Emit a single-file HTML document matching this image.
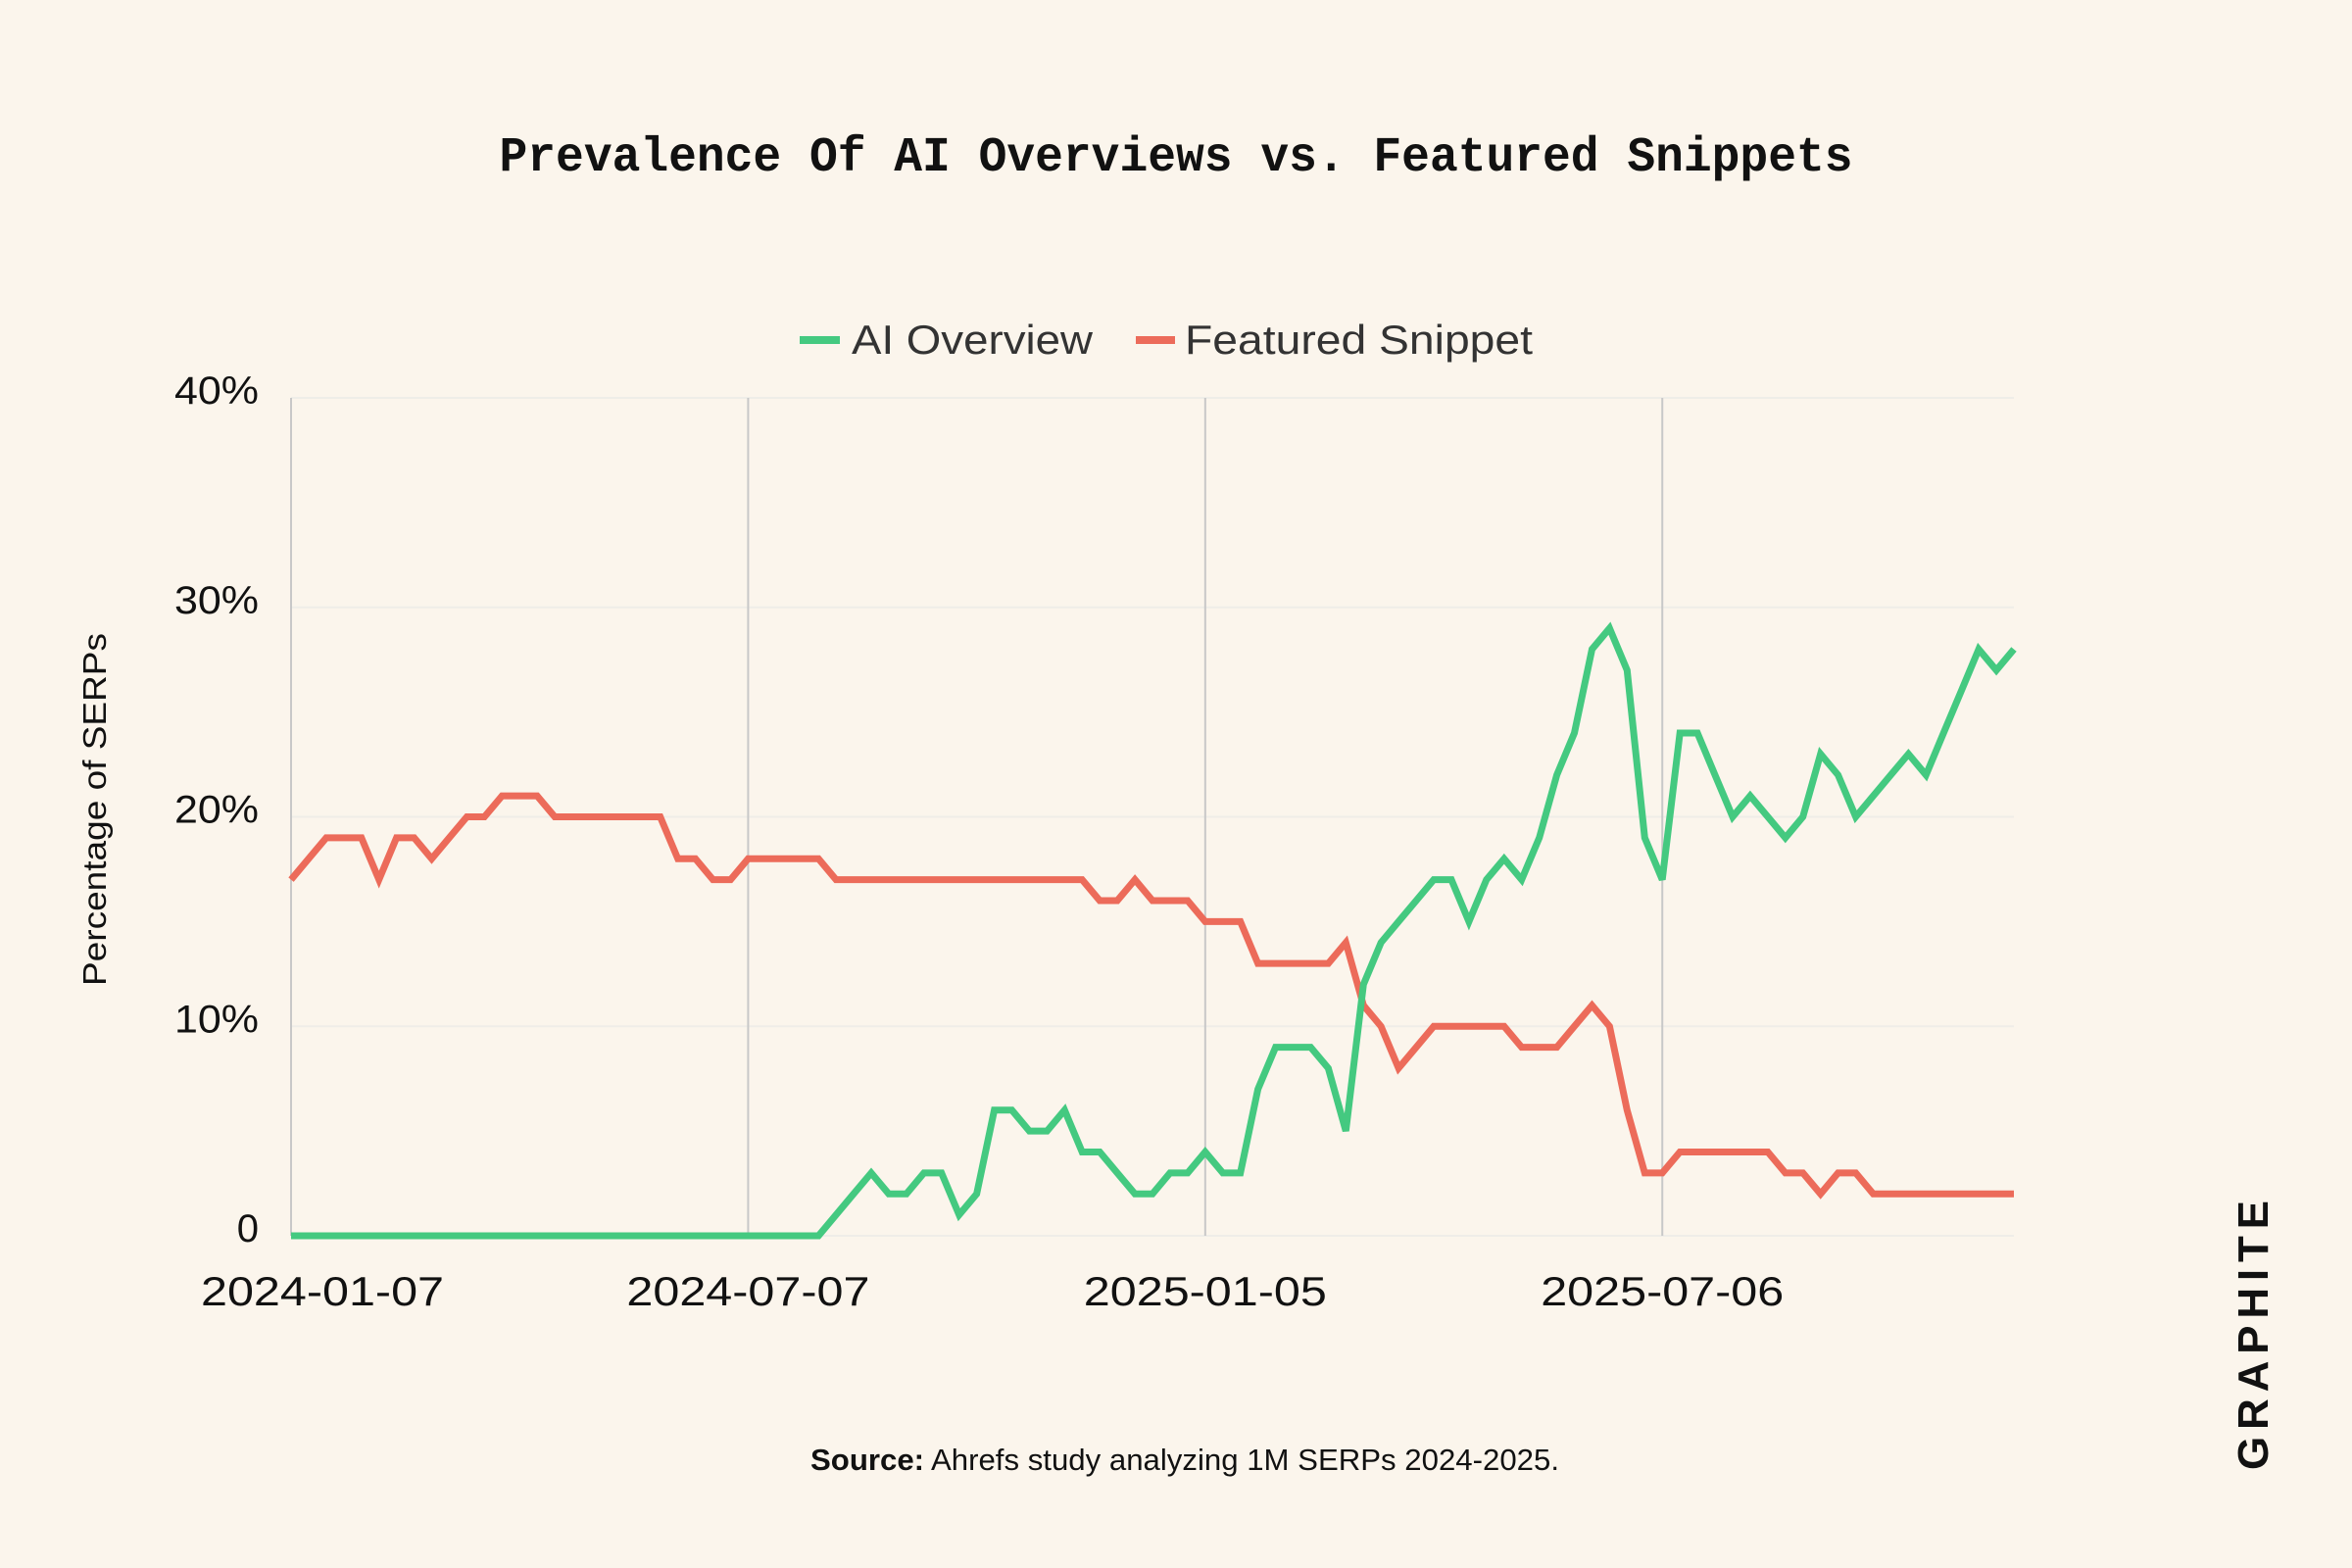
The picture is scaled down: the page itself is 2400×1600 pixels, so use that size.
<!DOCTYPE html>
<html><head><meta charset="utf-8">
<style>
html,body{margin:0;padding:0;background:#FBF5EC;}
svg{display:block;}
text{font-family:"Liberation Sans",sans-serif;}
</style></head>
<body>
<svg id="chart" width="2400" height="1600" viewBox="0 0 2400 1600" xmlns="http://www.w3.org/2000/svg">
<rect width="2400" height="1600" fill="#FBF5EC"/>
<text x="1200" y="174" text-anchor="middle" style="font-family:'Liberation Mono',monospace;font-weight:bold;font-size:50px" fill="#111" textLength="1381" lengthAdjust="spacingAndGlyphs">Prevalence Of AI Overviews vs. Featured Snippets</text>
<g>
<g>
<rect x="816" y="343" width="41" height="8" fill="#44C980"/>
<text x="869" y="361" font-size="42" fill="#333" textLength="246" lengthAdjust="spacingAndGlyphs">AI Overview</text>
</g>
<g>
<rect x="1159" y="343" width="40" height="8" fill="#EC6B5A"/>
<text x="1209" y="361" font-size="42" fill="#333" textLength="355" lengthAdjust="spacingAndGlyphs">Featured Snippet</text>
</g>
</g>
<text transform="translate(108,826) rotate(-90)" text-anchor="middle" font-size="33" fill="#111" textLength="360" lengthAdjust="spacingAndGlyphs">Percentage of SERPs</text>
<g id="grid"></g>
<g id="axes"></g>
<g id="series"></g>
<text x="1209" y="1500" text-anchor="middle" font-size="31" fill="#111" textLength="764" lengthAdjust="spacingAndGlyphs"><tspan font-weight="bold">Source:</tspan> Ahrefs study analyzing 1M SERPs 2024-2025.</text>
<text transform="translate(2314,1500) rotate(-90)" font-size="44" font-weight="bold" fill="#111" textLength="275" lengthAdjust="spacing">GRAPHITE</text>
</svg>
<script>
const aiOverview = [0,0,0,0,0,0,0,0,0,0,0,0,0,0,0,0,0,0,0,0,0,0,0,0,0,0,0,0,0,0,0,1,2,3,2,2,3,3,1,2,6,6,5,5,6,4,4,3,2,2,3,3,4,3,3,7,9,9,9,8,5,12,14,15,16,17,17,15,17,18,17,19,22,24,28,29,27,19,17,24,24,22,20,21,20,19,20,23,22,20,21,22,23,22,24,26,28,27,28];
const featuredSnippet = [17,18,19,19,19,17,19,19,18,19,20,20,21,21,21,20,20,20,20,20,20,20,18,18,17,17,18,18,18,18,18,17,17,17,17,17,17,17,17,17,17,17,17,17,17,17,16,16,17,16,16,16,15,15,15,13,13,13,13,13,14,11,10,8,9,10,10,10,10,10,9,9,9,10,11,10,6,3,3,4,4,4,4,4,4,3,3,2,3,3,2,2,2,2,2,2,2,2,2];
const yTicks = [0,10,20,30,40];
const yTickLabels = ["0","10%","20%","30%","40%"];
const xTickIndex = [0,26,52,78];
const xTickLabels = ["2024-01-07","2024-07-07","2025-01-05","2025-07-06"];

const NS = "http://www.w3.org/2000/svg";
const X0 = 297, X1 = 2055, Y0 = 1261, Y40 = 406;
const N = aiOverview.length;
function xScale(i){ return X0 + (X1 - X0) * i / (N - 1); }
function yScale(v){ return Y0 - (Y0 - Y40) * v / 40; }
function mk(tag, attrs, parent){ const e = document.createElementNS(NS, tag); for (const k in attrs) e.setAttribute(k, attrs[k]); parent.appendChild(e); return e; }

const grid = document.getElementById('grid');
const axes = document.getElementById('axes');
const series = document.getElementById('series');

yTicks.forEach((t, k) => {
  const y = yScale(t);
  const gl = mk('line', {x1: X0, x2: X1, y1: y, y2: y, stroke: '#EFEDE8', 'stroke-width': 2}, grid);
  
  
  const attrs = {x: 264, y: y + 6, 'text-anchor': 'end', 'font-size': 40, fill: '#111'};
  if (yTickLabels[k].length > 1) { attrs.textLength = 86; attrs.lengthAdjust = 'spacingAndGlyphs'; }
  const lb = mk('text', attrs, axes);
  lb.textContent = yTickLabels[k];
  
  
});

xTickIndex.forEach((idx, k) => {
  const x = xScale(idx);
  const vl = mk('line', {x1: x, x2: x, y1: Y40, y2: Y0, stroke: '#C8C8C8', 'stroke-width': 2}, grid);
  
  
  const lx = k === 0 ? x + 32 : x;
  const lb = mk('text', {x: lx, y: 1332, 'text-anchor': 'middle', 'font-size': 42, fill: '#111', textLength: 248, lengthAdjust: 'spacingAndGlyphs'}, axes);
  lb.textContent = xTickLabels[k];
  
  
});

function drawLine(data, color, name){
  const pts = data.map((v, i) => xScale(i).toFixed(1) + ',' + yScale(v).toFixed(1)).join(' ');
  const pl = mk('polyline', {points: pts, fill: 'none', stroke: color, 'stroke-width': 7, 'stroke-linejoin': 'miter', 'stroke-miterlimit': 3}, series);
  
  
}
drawLine(featuredSnippet, '#EC6B5A', 'featured-snippet-line');
drawLine(aiOverview, '#44C980', 'ai-overview-line');
</script>
</body></html>
